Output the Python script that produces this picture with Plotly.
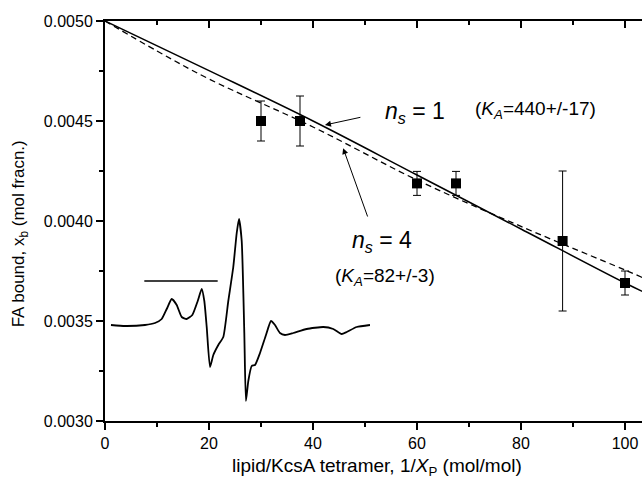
import plotly.graph_objects as go

# Experimental points
pts_x = [30, 37.5, 60, 67.5, 88, 100]
pts_y = [0.00450, 0.00450, 0.004188, 0.004188, 0.00390, 0.00369]
pts_err = [0.00010, 0.000125, 0.00006, 0.00006, 0.00035, 0.00006]

# Fitted curves
fit1_x = [0, 20, 40, 60, 80, 100, 104]
fit1_y = [0.00500, 0.004752, 0.00450, 0.00423, 0.00396, 0.00369, 0.00364]
fit4_x = [0, 10, 20, 40, 60, 80, 100, 104]
fit4_y = [0.00500, 0.00485, 0.00471, 0.00447, 0.004205, 0.003973, 0.003755, 0.00371]

# Inset EPR spectrum (drawn in data units)
spec_x = [1.15, 3.85, 7.69, 9.62, 10.90, 11.87, 12.83, 13.79, 14.75, 15.71, 16.79, 17.83,
          18.60, 19.10, 19.56, 20.19, 20.83, 21.79, 22.75, 23.71, 24.67, 25.33, 25.77, 26.29,
          26.79, 27.10, 27.56, 28.21, 28.85, 29.81, 30.96, 31.92, 32.69, 33.65, 34.62, 36.21,
          38.79, 41.98, 43.90, 45.52, 46.48, 48.40, 50.96]
spec_y = [0.00348, 0.003475, 0.00348, 0.00349, 0.00351, 0.00356, 0.00361, 0.00358, 0.00352,
          0.00351, 0.00353, 0.00360, 0.00366, 0.00360, 0.00347, 0.00327, 0.00333, 0.00338,
          0.00342, 0.00360, 0.00377, 0.00394, 0.00401, 0.00390, 0.00344, 0.00310, 0.00320,
          0.003275, 0.00328, 0.00334, 0.00343, 0.00350, 0.00348, 0.00344, 0.00343, 0.00344,
          0.00346, 0.00347, 0.00346, 0.003435, 0.003445, 0.00347, 0.00348]
bar_x = [7.56, 21.67]
bar_y = [0.0037, 0.0037]

FONT = "Arial, Liberation Sans, sans-serif"
X_RANGE = [0, 103.27]
Y_RANGE = [0.0030, 0.0050]

fig = go.Figure()
fig.add_trace(go.Scatter(x=fit1_x, y=fit1_y, mode="lines", line=dict(color="black", width=1.5),
                         line_shape="spline", showlegend=False, hoverinfo="skip"))
fig.add_trace(go.Scatter(x=fit4_x, y=fit4_y, mode="lines",
                         line=dict(color="black", width=1.3, dash="6px,4px"),
                         line_shape="spline", showlegend=False, hoverinfo="skip"))
fig.add_trace(go.Scatter(x=spec_x, y=spec_y, mode="lines",
                         line=dict(color="black", width=1.8, shape="spline", smoothing=0.5),
                         showlegend=False, hoverinfo="skip"))
fig.add_trace(go.Scatter(x=bar_x, y=bar_y, mode="lines", line=dict(color="black", width=1.5),
                         showlegend=False, hoverinfo="skip"))
fig.add_trace(go.Scatter(x=pts_x, y=pts_y, mode="markers",
                         marker=dict(symbol="square", size=10, color="black"),
                         error_y=dict(type="data", array=pts_err, color="black", thickness=1, width=4),
                         showlegend=False))
# invisible trace for the top axis
fig.add_trace(go.Scatter(x=[0], y=[0.004], xaxis="x2", mode="markers",
                         marker=dict(opacity=0), showlegend=False, hoverinfo="skip"))

ann_font = dict(family=FONT, color="black")
fig.add_annotation(x=42.3, y=0.00448, ax=49.4, ay=0.00452, xref="x", yref="y", axref="x", ayref="y",
                   text="", showarrow=True, arrowhead=2, arrowsize=1.2, arrowwidth=1, arrowcolor="black")
fig.add_annotation(x=45.8, y=0.004364, ax=50.6, ay=0.004015, xref="x", yref="y", axref="x", ayref="y",
                   text="", showarrow=True, arrowhead=2, arrowsize=1.2, arrowwidth=1, arrowcolor="black")
fig.add_annotation(x=53.5, y=0.004545, xref="x", yref="y", xanchor="left", yanchor="middle",
                   text="<i>n<sub>s</sub></i> = 1", showarrow=False, font=dict(size=23, **ann_font))
fig.add_annotation(x=70.8, y=0.004553, xref="x", yref="y", xanchor="left", yanchor="middle",
                   text="(<i>K<sub>A</sub></i>=440+/-17)", showarrow=False, font=dict(size=19, **ann_font))
fig.add_annotation(x=47.1, y=0.00390, xref="x", yref="y", xanchor="left", yanchor="middle",
                   text="<i>n<sub>s</sub></i> = 4", showarrow=False, font=dict(size=23, **ann_font))
fig.add_annotation(x=43.8, y=0.00372, xref="x", yref="y", xanchor="left", yanchor="middle",
                   text="(<i>K<sub>A</sub></i>=82+/-3)", showarrow=False, font=dict(size=19, **ann_font))
# axis titles
fig.add_annotation(x=-0.158, y=0.467, xref="paper", yref="paper", xanchor="center", yanchor="middle",
                   textangle=-90, text="FA bound, x<sub>b</sub> (mol fracn.)", showarrow=False,
                   font=dict(size=17, **ann_font))
fig.add_annotation(x=0.507, y=-0.115, xref="paper", yref="paper", xanchor="center", yanchor="middle",
                   text="lipid/KcsA tetramer, 1/<i>X</i><sub>P</sub> (mol/mol)", showarrow=False,
                   font=dict(size=19, **ann_font))

fig.update_layout(
    width=642, height=482,
    margin=dict(l=105, r=0, t=21, b=61),
    paper_bgcolor="white", plot_bgcolor="white",
    font=dict(family=FONT, size=16, color="black"),
    xaxis=dict(range=X_RANGE, showgrid=False, zeroline=False, showline=True, linecolor="black",
               linewidth=2, ticks="outside", tickwidth=1.5, ticklen=7, tickcolor="black",
               tick0=0, dtick=20, minor=dict(ticks="outside", dtick=10, ticklen=4, tickwidth=1.5,
                                             tickcolor="black")),
    xaxis2=dict(range=X_RANGE, overlaying="x", side="top", showgrid=False, zeroline=False,
                showline=True, linecolor="black", linewidth=2, ticks="inside", tickwidth=1.5,
                ticklen=7, tickcolor="black", tick0=0, dtick=20, showticklabels=False,
                minor=dict(ticks="inside", dtick=10, ticklen=4, tickwidth=1.5, tickcolor="black")),
    yaxis=dict(range=Y_RANGE, showgrid=False, zeroline=False, showline=True, linecolor="black",
               linewidth=2, ticks="outside", tickwidth=1.5, ticklen=7, tickcolor="black",
               tick0=0.003, dtick=0.0005, tickformat=".4f",
               minor=dict(ticks="outside", dtick=0.00025, ticklen=4, tickwidth=1.5, tickcolor="black")),
)

fig.write_html("out.html", config={"displayModeBar": False},
               post_script="document.body.style.margin='0';document.body.style.overflow='hidden';")
